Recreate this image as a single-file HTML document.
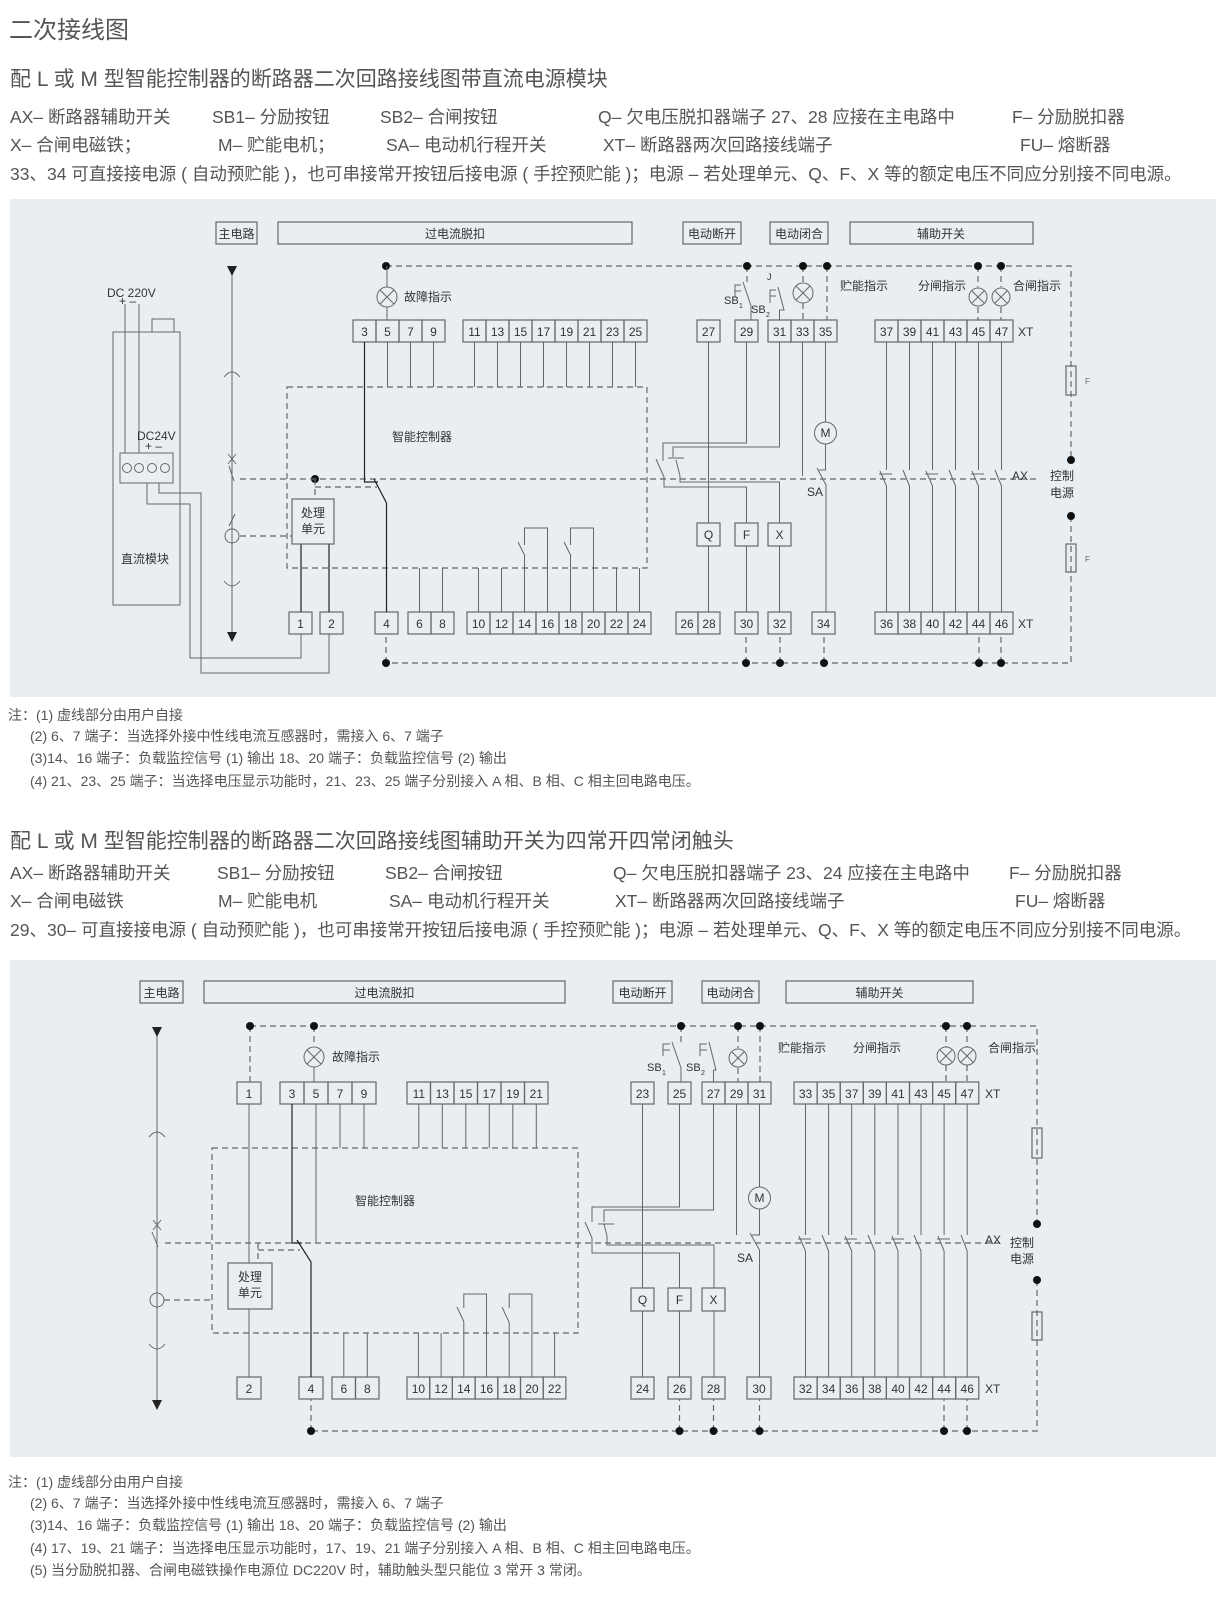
<!DOCTYPE html>
<html><head><meta charset="utf-8">
<style>
html,body{margin:0;padding:0;background:#fff;}
svg{display:block;font-family:"Liberation Sans","Noto Sans CJK SC",sans-serif;}
.l{stroke:#666;fill:none;stroke-width:1}
.k{stroke:#222;fill:none;stroke-width:1.2}
.d{stroke:#666;fill:none;stroke-width:1.2;stroke-dasharray:6 4}
.b{fill:none;stroke:#666;stroke-width:1.2}
.t{fill:#333;font-size:12px;text-anchor:middle}
.s{fill:#333;font-size:12px}
.h{fill:#555}
.dot{fill:#111}
</style></head><body>
<svg width="1216" height="1600" viewBox="0 0 1216 1600" xmlns="http://www.w3.org/2000/svg">
<text x="9" y="38" class="h" font-size="24">二次接线图</text>
<text x="10" y="86" class="h" font-size="21">配 L 或 M 型智能控制器的断路器二次回路接线图带直流电源模块</text>
<g class="h" font-size="17.5">
<text x="10" y="123">AX– 断路器辅助开关</text><text x="212" y="123">SB1– 分励按钮</text><text x="380" y="123">SB2– 合闸按钮</text><text x="598" y="123">Q– 欠电压脱扣器端子 27、28 应接在主电路中</text><text x="1012" y="123">F– 分励脱扣器</text>
<text x="10" y="151">X– 合闸电磁铁；</text><text x="218" y="151">M– 贮能电机；</text><text x="386" y="151">SA– 电动机行程开关</text><text x="603" y="151">XT– 断路器两次回路接线端子</text><text x="1020" y="151">FU– 熔断器</text>
<text x="10" y="180">33、34 可直接接电源 ( 自动预贮能 )，也可串接常开按钮后接电源 ( 手控预贮能 )；电源 – 若处理单元、Q、F、X 等的额定电压不同应分别接不同电源。</text>
</g>

<rect x="10" y="199" width="1206" height="498" fill="#e9eef3"/>
<g class="s">
<rect class="b" x="216" y="222" width="41" height="22"/><text x="236.5" y="238" class="t">主电路</text>
<rect class="b" x="278" y="222" width="354" height="22"/><text x="455" y="238" class="t">过电流脱扣</text>
<rect class="b" x="683" y="222" width="58" height="22"/><text x="712" y="238" class="t">电动断开</text>
<rect class="b" x="770" y="222" width="58" height="22"/><text x="799" y="238" class="t">电动闭合</text>
<rect class="b" x="850" y="222" width="183" height="22"/><text x="941" y="238" class="t">辅助开关</text>
</g>
<path class="d" d="M386,266 H1071 V460 M1071,516 V663 H386 M386,663 V634 M746,663 V634 M780,663 V634 M824,663 V634 M979,663 V634 M1001,663 V634"/>
<path class="d" d="M747,266 V283 M803,266 V283 M803,303 V320 M827,266 V320 M978,266 V287 M978,307 V320 M1001,266 V287 M1001,307 V320"/>
<g class="dot"><circle cx="386" cy="266" r="4"/><circle cx="747" cy="266" r="4"/><circle cx="803" cy="266" r="4"/><circle cx="827" cy="266" r="4"/><circle cx="978" cy="266" r="4"/><circle cx="1001" cy="266" r="4"/>
<circle cx="386" cy="663" r="4"/><circle cx="746" cy="663" r="4"/><circle cx="780" cy="663" r="4"/><circle cx="824" cy="663" r="4"/><circle cx="979" cy="663" r="4"/><circle cx="1001" cy="663" r="4"/>
<circle cx="1071" cy="460" r="4"/><circle cx="1071" cy="516" r="4"/><circle cx="315" cy="479" r="4"/></g>
<rect class="b" x="1066" y="366" width="10" height="29"/><rect class="b" x="1066" y="544" width="10" height="28"/>
<text x="1085" y="384" font-size="8" fill="#666">F</text><text x="1085" y="562" font-size="8" fill="#666">F</text>
<text x="1062" y="480" class="t">控制</text><text x="1062" y="497" class="t">电源</text>
<g class="l"><path d="M387,266 V287 M387,307 V320"/><circle cx="387" cy="297" r="10"/><path d="M380,290 L394,304 M394,290 L380,304"/>
<circle cx="803" cy="293" r="10"/><path d="M796,286 L810,300 M810,286 L796,300"/>
<circle cx="978" cy="297" r="9"/><path d="M972,291 L984,303 M984,291 L972,303"/>
<circle cx="1001" cy="297" r="9"/><path d="M995,291 L1007,303 M1007,291 L995,303"/></g>
<text x="404" y="301" class="s">故障指示</text>
<text x="840" y="290" class="s">贮能指示</text><text x="918" y="290" class="s">分闸指示</text><text x="1013" y="290" class="s">合闸指示</text>
<g class="l"><path d="M735,297 V285 H741 M735,291 H741"/><path d="M743,282 L751,306 V320"/>
<path d="M770,303 V290 H776 M770,296 H776"/><path d="M778,287 L784,310 H779.5 V320"/></g>
<text x="724" y="304" font-size="11" fill="#333">SB</text><text x="739" y="308" font-size="7" fill="#333">1</text>
<text x="751" y="313" font-size="11" fill="#333">SB</text><text x="766" y="317" font-size="7" fill="#333">2</text>
<text x="767" y="280" font-size="9" fill="#333">J</text>
<g class="b">
<rect x="353" y="320" width="23" height="22"/><rect x="376" y="320" width="23" height="22"/><rect x="399" y="320" width="23" height="22"/><rect x="422" y="320" width="23" height="22"/>
<rect x="463" y="320" width="23" height="22"/><rect x="486" y="320" width="23" height="22"/><rect x="509" y="320" width="23" height="22"/><rect x="532" y="320" width="23" height="22"/><rect x="555" y="320" width="23" height="22"/><rect x="578" y="320" width="23" height="22"/><rect x="601" y="320" width="23" height="22"/><rect x="624" y="320" width="23" height="22"/>
<rect x="697" y="320" width="23" height="22"/><rect x="735" y="320" width="23" height="22"/>
<rect x="768" y="320" width="23" height="22"/><rect x="791" y="320" width="23" height="22"/><rect x="814" y="320" width="23" height="22"/>
<rect x="875" y="320" width="23" height="22"/><rect x="898" y="320" width="23" height="22"/><rect x="921" y="320" width="23" height="22"/><rect x="944" y="320" width="23" height="22"/><rect x="967" y="320" width="23" height="22"/><rect x="990" y="320" width="23" height="22"/>
</g>
<g class="t">
<text x="364.5" y="336">3</text><text x="387.5" y="336">5</text><text x="410.5" y="336">7</text><text x="433.5" y="336">9</text>
<text x="474.5" y="336">11</text><text x="497.5" y="336">13</text><text x="520.5" y="336">15</text><text x="543.5" y="336">17</text><text x="566.5" y="336">19</text><text x="589.5" y="336">21</text><text x="612.5" y="336">23</text><text x="635.5" y="336">25</text>
<text x="708.5" y="336">27</text><text x="746.5" y="336">29</text><text x="779.5" y="336">31</text><text x="802.5" y="336">33</text><text x="825.5" y="336">35</text>
<text x="886.5" y="336">37</text><text x="909.5" y="336">39</text><text x="932.5" y="336">41</text><text x="955.5" y="336">43</text><text x="978.5" y="336">45</text><text x="1001.5" y="336">47</text>
</g>
<text x="1018" y="336" class="s">XT</text>
<g class="b">
<rect x="289" y="612" width="23" height="22"/><rect x="320" y="612" width="23" height="22"/><rect x="375" y="612" width="23" height="22"/>
<rect x="408" y="612" width="23" height="22"/><rect x="431" y="612" width="23" height="22"/>
<rect x="467" y="612" width="23" height="22"/><rect x="490" y="612" width="23" height="22"/><rect x="513" y="612" width="23" height="22"/><rect x="536" y="612" width="23" height="22"/><rect x="559" y="612" width="23" height="22"/><rect x="582" y="612" width="23" height="22"/><rect x="605" y="612" width="23" height="22"/><rect x="628" y="612" width="23" height="22"/>
<rect x="676" y="612" width="22" height="22"/><rect x="698" y="612" width="22" height="22"/>
<rect x="735" y="612" width="23" height="22"/><rect x="768" y="612" width="23" height="22"/><rect x="812" y="612" width="23" height="22"/>
<rect x="875" y="612" width="23" height="22"/><rect x="898" y="612" width="23" height="22"/><rect x="921" y="612" width="23" height="22"/><rect x="944" y="612" width="23" height="22"/><rect x="967" y="612" width="23" height="22"/><rect x="990" y="612" width="23" height="22"/>
</g>
<g class="t">
<text x="300.5" y="628">1</text><text x="331.5" y="628">2</text><text x="386.5" y="628">4</text><text x="419.5" y="628">6</text><text x="442.5" y="628">8</text>
<text x="478.5" y="628">10</text><text x="501.5" y="628">12</text><text x="524.5" y="628">14</text><text x="547.5" y="628">16</text><text x="570.5" y="628">18</text><text x="593.5" y="628">20</text><text x="616.5" y="628">22</text><text x="639.5" y="628">24</text>
<text x="687" y="628">26</text><text x="709" y="628">28</text><text x="746.5" y="628">30</text><text x="779.5" y="628">32</text><text x="823.5" y="628">34</text>
<text x="886.5" y="628">36</text><text x="909.5" y="628">38</text><text x="932.5" y="628">40</text><text x="955.5" y="628">42</text><text x="978.5" y="628">44</text><text x="1001.5" y="628">46</text>
</g>
<text x="1018" y="628" class="s">XT</text>
<rect x="287" y="387" width="360" height="181" class="d"/>
<text x="392" y="441" class="s" font-size="12.5">智能控制器</text>
<path class="d" d="M240,479 H1040 M240,536 H292 M315,479 V499 M315,487 H377"/>
<text x="1012" y="480" class="s">AX</text>
<g class="l">
<path d="M387.5,342 V387 M410.5,342 V387 M433.5,342 V387"/>
<path d="M474.5,342 V387 M497.5,342 V387 M520.5,342 V387 M543.5,342 V387 M566.5,342 V387 M589.5,342 V387 M612.5,342 V387 M635.5,342 V387"/>
<path d="M419.5,568 V612 M442.5,568 V612 M478.5,568 V612 M501.5,568 V612 M616.5,568 V612 M639.5,568 V612"/>
<path d="M524.5,612 V555 M518,542 L525,556 M524.5,545 V528 H547.5 V612"/>
<path d="M570.5,612 V555 M564,542 L571,556 M570.5,545 V528 H593.5 V612"/>
</g>
<g class="k"><path d="M364.5,342 V482 H378 M374,479 L386.5,503 V612"/><path d="M301,544 V612 M329,544 V612"/></g>
<rect x="292" y="499" width="42" height="45" class="b"/>
<text x="313" y="517" class="t">处理</text><text x="313" y="533" class="t">单元</text>
<g class="l"><path d="M232,270 V640 M224,377 Q232,367 240,377 M224,581 Q232,591 240,581 M228,454 L236,464 M236,454 L228,464 M229,466 L234,481 M229,526 L235,514"/><circle cx="232" cy="536" r="7"/></g>
<path d="M227,266 H237 L232,276 Z M227,632 H237 L232,642 Z" fill="#222"/>
<g class="l"><rect x="113" y="332" width="67" height="273"/><rect x="152" y="319" width="22" height="13"/>
<path d="M125,304 V453 M139,304 V453"/>
<rect x="120" y="453" width="53" height="30"/>
<circle cx="127" cy="468" r="4.5"/><circle cx="139" cy="468" r="4.5"/><circle cx="152" cy="468" r="4.5"/><circle cx="165" cy="468" r="4.5"/>
<path d="M147,483 V504 H190 V658 H301 V634 M159,483 V493 H201 V673 H329 V634"/></g>
<text x="107" y="297" class="s">DC 220V</text><text x="119" y="305" class="s" font-size="11">+ –</text>
<text x="137" y="440" class="s">DC24V</text><text x="145" y="450" class="s" font-size="11">+ –</text>
<text x="121" y="563" class="s">直流模块</text>
<g class="l">
<path d="M708.5,342 V523 M708.5,546 V612"/>
<path d="M746.5,342 V443 H663 V461 M656,459 L664,477 V487 H746.5 V523 M746.5,546 V612"/>
<path d="M779.5,342 V447 H673 V457 M668,458 H684 M676,460 L680,476 V482 H779.5 V523 M779.5,546 V612"/>
<path d="M802.5,342 V476"/>
<path d="M825.5,342 V422 M825.5,444 V470 H819 M817,468 L826,485 V612"/>
<circle cx="825.5" cy="433" r="11"/>
<path d="M886.5,342 V470 M879,474 H892 M880,471 L886.5,486 V612"/>
<path d="M909.5,342 V470 M903,470 L909.5,486 V612"/>
<path d="M932.5,342 V470 M925,474 H938 M926,471 L932.5,486 V612"/>
<path d="M955.5,342 V470 M949,470 L955.5,486 V612"/>
<path d="M978.5,342 V470 M971,474 H984 M972,471 L978.5,486 V612"/>
<path d="M1001.5,342 V470 M995,470 L1001.5,486 V612"/>
</g>
<text x="825.5" y="437" class="t" font-size="11">M</text>
<text x="807" y="496" class="s">SA</text>
<g class="b"><rect x="697" y="523" width="23" height="23"/><rect x="735" y="523" width="23" height="23"/><rect x="768" y="523" width="23" height="23"/></g>
<text x="708.5" y="539" class="t">Q</text><text x="746.5" y="539" class="t">F</text><text x="779.5" y="539" class="t">X</text>

<g class="h" font-size="14">
<text x="8" y="720">注：(1) 虚线部分由用户自接</text>
<text x="30" y="741">(2) 6、7 端子：当选择外接中性线电流互感器时，需接入 6、7 端子</text>
<text x="30" y="763">(3)14、16 端子：负载监控信号 (1) 输出 18、20 端子：负载监控信号 (2) 输出</text>
<text x="30" y="786">(4) 21、23、25 端子：当选择电压显示功能时，21、23、25 端子分别接入 A 相、B 相、C 相主回电路电压。</text>
</g>

<text x="10" y="848" class="h" font-size="21">配 L 或 M 型智能控制器的断路器二次回路接线图辅助开关为四常开四常闭触头</text>
<g class="h" font-size="17.5">
<text x="10" y="879">AX– 断路器辅助开关</text><text x="217" y="879">SB1– 分励按钮</text><text x="385" y="879">SB2– 合闸按钮</text><text x="613" y="879">Q– 欠电压脱扣器端子 23、24 应接在主电路中</text><text x="1009" y="879">F– 分励脱扣器</text>
<text x="10" y="907">X– 合闸电磁铁</text><text x="218" y="907">M– 贮能电机</text><text x="389" y="907">SA– 电动机行程开关</text><text x="615" y="907">XT– 断路器两次回路接线端子</text><text x="1015" y="907">FU– 熔断器</text>
<text x="10" y="936">29、30– 可直接接电源 ( 自动预贮能 )，也可串接常开按钮后接电源 ( 手控预贮能 )；电源 – 若处理单元、Q、F、X 等的额定电压不同应分别接不同电源。</text>
</g>

<rect x="10" y="960" width="1206" height="497" fill="#e9eef3"/>
<rect class="b" x="140" y="981" width="43" height="22"/><text x="161.5" y="997" class="t">主电路</text>
<rect class="b" x="204" y="981" width="361" height="22"/><text x="384.5" y="997" class="t">过电流脱扣</text>
<rect class="b" x="613" y="981" width="59" height="22"/><text x="642.5" y="997" class="t">电动断开</text>
<rect class="b" x="702" y="981" width="57" height="22"/><text x="730.5" y="997" class="t">电动闭合</text>
<rect class="b" x="786" y="981" width="187" height="22"/><text x="879.5" y="997" class="t">辅助开关</text>

<path class="d" d="M250,1026 H1037 V1224 M1037,1280 V1431 H311 M311,1431 V1399 M679.5,1431 V1399 M713.5,1431 V1399 M759.5,1431 V1399 M944,1431 V1399 M967,1431 V1399"/>
<path class="d" d="M250,1026 V1082 M314,1026 V1046 M681,1026 V1044 M738,1026 V1048 M738,1068 V1082 M760,1026 V1082 M946,1026 V1047 M946,1065 V1082 M967,1026 V1047 M967,1065 V1082"/>
<g class="dot"><circle cx="250" cy="1026" r="4"/><circle cx="314" cy="1026" r="4"/><circle cx="681" cy="1026" r="4"/><circle cx="738" cy="1026" r="4"/><circle cx="760" cy="1026" r="4"/><circle cx="946" cy="1026" r="4"/><circle cx="967" cy="1026" r="4"/>
<circle cx="311" cy="1431" r="4"/><circle cx="679.5" cy="1431" r="4"/><circle cx="713.5" cy="1431" r="4"/><circle cx="759.5" cy="1431" r="4"/><circle cx="944" cy="1431" r="4"/><circle cx="967" cy="1431" r="4"/>
<circle cx="1037" cy="1224" r="4"/><circle cx="1037" cy="1280" r="4"/></g>
<rect class="b" x="1032" y="1128" width="10" height="30"/><rect class="b" x="1032" y="1312" width="10" height="28"/>
<text x="1022" y="1247" class="t">控制</text><text x="1022" y="1263" class="t">电源</text>
<g class="l"><circle cx="314" cy="1057" r="10"/><path d="M307,1050 L321,1064 M321,1050 L307,1064 M314,1067 V1082"/>
<circle cx="738" cy="1058" r="9"/><path d="M732,1052 L744,1064 M744,1052 L732,1064"/>
<circle cx="946" cy="1056" r="9"/><path d="M940,1050 L952,1062 M952,1050 L940,1062"/>
<circle cx="967" cy="1056" r="9"/><path d="M961,1050 L973,1062 M973,1050 L961,1062"/></g>
<text x="332" y="1061" class="s">故障指示</text>
<text x="778" y="1052" class="s">贮能指示</text><text x="853" y="1052" class="s">分闸指示</text><text x="988" y="1052" class="s">合闸指示</text>
<g class="l"><path d="M663,1056 V1044 H670 M663,1050 H670"/><path d="M672,1042 L681,1068 V1082"/>
<path d="M700,1056 V1044 H707 M700,1050 H707"/><path d="M709,1042 L716,1070 H713.5 V1082"/></g>
<text x="647" y="1071" font-size="11" fill="#333">SB</text><text x="662" y="1075" font-size="7" fill="#333">1</text>
<text x="686" y="1071" font-size="11" fill="#333">SB</text><text x="701" y="1075" font-size="7" fill="#333">2</text>
<g class="b">
<rect x="237" y="1082" width="24" height="22"/>
<rect x="280" y="1082" width="24" height="22"/><rect x="304" y="1082" width="24" height="22"/><rect x="328" y="1082" width="24" height="22"/><rect x="352" y="1082" width="24" height="22"/>
<rect x="407" y="1082" width="23.5" height="22"/><rect x="430.5" y="1082" width="23.5" height="22"/><rect x="454" y="1082" width="23.5" height="22"/><rect x="477.5" y="1082" width="23.5" height="22"/><rect x="501" y="1082" width="23.5" height="22"/><rect x="524.5" y="1082" width="23.5" height="22"/>
<rect x="631" y="1082" width="23" height="22"/><rect x="668" y="1082" width="23" height="22"/>
<rect x="702" y="1082" width="23" height="22"/><rect x="725" y="1082" width="23" height="22"/><rect x="748" y="1082" width="23" height="22"/>
<rect x="794" y="1082" width="23.1" height="22"/><rect x="817.1" y="1082" width="23.1" height="22"/><rect x="840.2" y="1082" width="23.1" height="22"/><rect x="863.3" y="1082" width="23.1" height="22"/><rect x="886.4" y="1082" width="23.1" height="22"/><rect x="909.5" y="1082" width="23.1" height="22"/><rect x="932.6" y="1082" width="23.1" height="22"/><rect x="955.7" y="1082" width="23.1" height="22"/>
</g>
<g class="t">
<text x="249" y="1098">1</text><text x="292" y="1098">3</text><text x="316" y="1098">5</text><text x="340" y="1098">7</text><text x="364" y="1098">9</text>
<text x="418.8" y="1098">11</text><text x="442.3" y="1098">13</text><text x="465.8" y="1098">15</text><text x="489.3" y="1098">17</text><text x="512.8" y="1098">19</text><text x="536.3" y="1098">21</text>
<text x="642.5" y="1098">23</text><text x="679.5" y="1098">25</text><text x="713.5" y="1098">27</text><text x="736.5" y="1098">29</text><text x="759.5" y="1098">31</text>
<text x="805.5" y="1098">33</text><text x="828.6" y="1098">35</text><text x="851.7" y="1098">37</text><text x="874.8" y="1098">39</text><text x="898" y="1098">41</text><text x="921" y="1098">43</text><text x="944.1" y="1098">45</text><text x="967.2" y="1098">47</text>
</g>
<text x="985" y="1098" class="s">XT</text>
<g class="b">
<rect x="237" y="1377" width="24" height="22"/><rect x="299" y="1377" width="24" height="22"/>
<rect x="332" y="1377" width="23.5" height="22"/><rect x="355.5" y="1377" width="23.5" height="22"/>
<rect x="407" y="1377" width="22.7" height="22"/><rect x="429.7" y="1377" width="22.7" height="22"/><rect x="452.4" y="1377" width="22.7" height="22"/><rect x="475.1" y="1377" width="22.7" height="22"/><rect x="497.8" y="1377" width="22.7" height="22"/><rect x="520.5" y="1377" width="22.7" height="22"/><rect x="543.2" y="1377" width="22.7" height="22"/>
<rect x="631" y="1377" width="23" height="22"/><rect x="668" y="1377" width="23" height="22"/><rect x="702" y="1377" width="23" height="22"/><rect x="747" y="1377" width="24" height="22"/>
<rect x="794" y="1377" width="23.1" height="22"/><rect x="817.1" y="1377" width="23.1" height="22"/><rect x="840.2" y="1377" width="23.1" height="22"/><rect x="863.3" y="1377" width="23.1" height="22"/><rect x="886.4" y="1377" width="23.1" height="22"/><rect x="909.5" y="1377" width="23.1" height="22"/><rect x="932.6" y="1377" width="23.1" height="22"/><rect x="955.7" y="1377" width="23.1" height="22"/>
</g>
<g class="t">
<text x="249" y="1393">2</text><text x="311" y="1393">4</text><text x="343.8" y="1393">6</text><text x="367.3" y="1393">8</text>
<text x="418.4" y="1393">10</text><text x="441.1" y="1393">12</text><text x="463.8" y="1393">14</text><text x="486.5" y="1393">16</text><text x="509.2" y="1393">18</text><text x="531.9" y="1393">20</text><text x="554.6" y="1393">22</text>
<text x="642.5" y="1393">24</text><text x="679.5" y="1393">26</text><text x="713.5" y="1393">28</text><text x="759" y="1393">30</text>
<text x="805.5" y="1393">32</text><text x="828.6" y="1393">34</text><text x="851.7" y="1393">36</text><text x="874.8" y="1393">38</text><text x="898" y="1393">40</text><text x="921" y="1393">42</text><text x="944.1" y="1393">44</text><text x="967.2" y="1393">46</text>
</g>
<text x="985" y="1393" class="s">XT</text>
<rect x="212" y="1148" width="366" height="185" class="d"/>
<text x="355" y="1205" class="s" font-size="12.5">智能控制器</text>
<path class="d" d="M165,1243 H1000 M164,1300 H212 M258,1243 V1263 M258,1250 H300"/>
<text x="985" y="1244" class="s">AX</text>
<g class="l">
<path d="M249,1104 V1263 M249,1309 V1377 M316,1104 V1243"/>
<path d="M340,1104 V1148 M364,1104 V1148 M418.8,1104 V1148 M442.3,1104 V1148 M465.8,1104 V1148 M489.3,1104 V1148 M512.8,1104 V1148 M536.3,1104 V1148"/>
<path d="M343.8,1333 V1377 M367.3,1333 V1377 M418.4,1333 V1377 M441.1,1333 V1377 M554.6,1333 V1377"/>
<path d="M463.8,1377 V1322 M457,1307 L464,1322 M463.8,1308 V1294 H486.5 V1377"/>
<path d="M509.2,1377 V1322 M502,1307 L509,1322 M509.2,1308 V1294 H531.9 V1377"/>
</g>
<path class="k" d="M292,1104 V1243 H302 M297,1240 L311,1262 V1377"/>
<rect x="228" y="1263" width="44" height="46" class="b"/>
<text x="250" y="1281" class="t">处理</text><text x="250" y="1297" class="t">单元</text>
<g class="l"><path d="M157,1030 V1404 M149,1137 Q157,1127 165,1137 M149,1344 Q157,1354 165,1344 M153,1220 L161,1230 M161,1220 L153,1230 M152,1232 L158,1247"/><circle cx="157" cy="1300" r="7"/></g>
<path d="M152,1027 H162 L157,1037 Z M152,1400 H162 L157,1410 Z" fill="#222"/>
<g class="l">
<path d="M642.5,1104 V1288 M642.5,1311 V1377"/>
<path d="M679.5,1104 V1207 H592 V1222 M585,1222 L592,1238 V1253 H679.5 V1288 M679.5,1311 V1377"/>
<path d="M713.5,1104 V1210 H604 V1222 M598,1224 H614 M604,1224 L607,1236 V1245 H714 V1288 M714,1311 V1377"/>
<path d="M736.5,1104 V1235"/>
<path d="M759.5,1104 V1187 M759.5,1209 V1235 H752 M750,1233 L759.5,1250 V1377"/>
<circle cx="759.5" cy="1198" r="11"/>
<path d="M805.5,1104 V1235 M798,1239 H811 M799,1236 L805.5,1251 V1377"/>
<path d="M828.6,1104 V1235 M822,1235 L828.6,1251 V1377"/>
<path d="M851.7,1104 V1235 M844,1239 H857 M845,1236 L851.7,1251 V1377"/>
<path d="M874.8,1104 V1235 M868,1235 L874.8,1251 V1377"/>
<path d="M898,1104 V1235 M891,1239 H904 M892,1236 L898,1251 V1377"/>
<path d="M921,1104 V1235 M914,1235 L921,1251 V1377"/>
<path d="M944.1,1104 V1235 M937,1239 H950 M938,1236 L944.1,1251 V1377"/>
<path d="M967.2,1104 V1235 M961,1235 L967.2,1251 V1377"/>
</g>
<text x="759.5" y="1202" class="t" font-size="11">M</text>
<text x="737" y="1262" class="s">SA</text>
<g class="b"><rect x="631" y="1288" width="23" height="23"/><rect x="668" y="1288" width="23" height="23"/><rect x="702" y="1288" width="23" height="23"/></g>
<text x="642.5" y="1304" class="t">Q</text><text x="679.5" y="1304" class="t">F</text><text x="713.5" y="1304" class="t">X</text>

<g class="h" font-size="14">
<text x="8" y="1487">注：(1) 虚线部分由用户自接</text>
<text x="30" y="1508">(2) 6、7 端子：当选择外接中性线电流互感器时，需接入 6、7 端子</text>
<text x="30" y="1530">(3)14、16 端子：负载监控信号 (1) 输出 18、20 端子：负载监控信号 (2) 输出</text>
<text x="30" y="1553">(4) 17、19、21 端子：当选择电压显示功能时，17、19、21 端子分别接入 A 相、B 相、C 相主回电路电压。</text>
<text x="30" y="1575">(5) 当分励脱扣器、合闸电磁铁操作电源位 DC220V 时，辅助触头型只能位 3 常开 3 常闭。</text>
</g>
</svg>
</body></html>
